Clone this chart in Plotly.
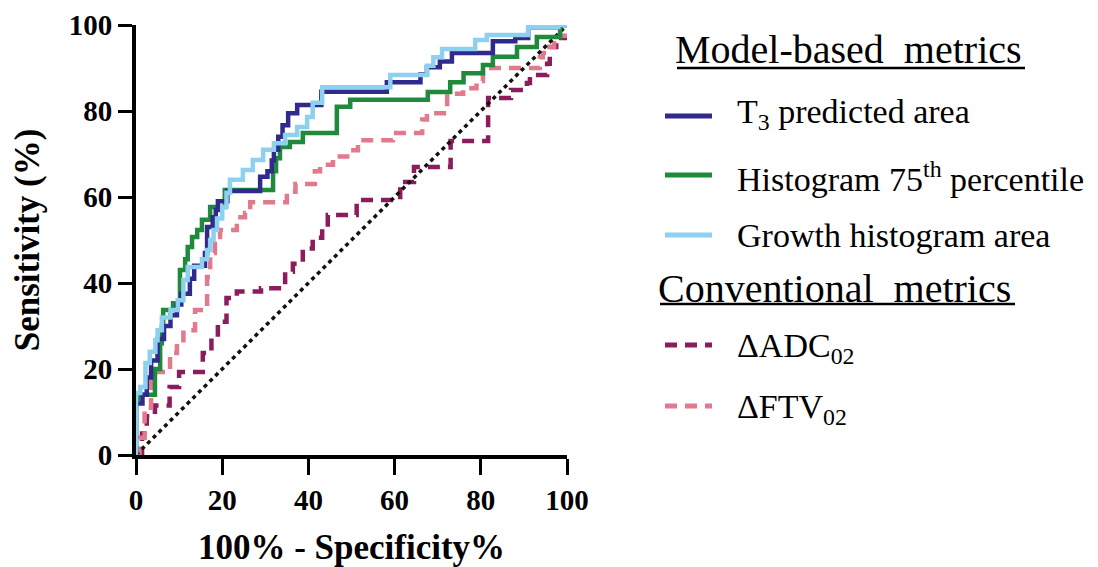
import plotly.graph_objects as go

# ---------------- data (jump points of ROC step curves) ----------------
t3_x = [0, 0, 1.5, 2.5, 3.5, 5, 6.5, 8, 9.5, 10.5, 12.5, 13.5, 16, 16.5, 17.8, 18.5, 19, 21.2,
        28.8, 30.5, 31.5, 32, 33, 34, 35.3, 37.4, 43, 58.2, 66, 67.5, 70.5, 73.3, 82.8, 88, 91, 98, 100]
t3_y = [0, 12, 14, 18, 22, 27, 30, 32.5, 35, 37.5, 41, 44, 47, 53, 55.3, 57, 59, 61.4,
        64.7, 66, 68.5, 71, 74, 76.7, 79.5, 81.4, 84.5, 86.7, 88.5, 90.2, 91.5, 93.5, 96.2, 97, 99.5, 100, 100]

hist75_x = [0, 0, 0.5, 4.4, 5.6, 6.0, 6.3, 8.6, 10.2, 11.4, 12, 13, 14.2, 15.3, 17.2, 20.6,
            31.8, 32.5, 33.4, 35.7, 38.7, 46.6, 49.7, 67.7, 72.9, 76, 80.5, 82.8, 88.4, 93, 98.4, 100]
hist75_y = [0, 13, 14, 20, 26, 29.8, 33.7, 35.3, 43, 45.5, 48.4, 50.7, 52.3, 54.7, 57.7, 61.6,
            66, 69, 71.6, 72.8, 74.9, 81, 82.6, 84.4, 86.7, 88.8, 90.7, 92.6, 94.9, 97.2, 100, 100]

growth_x = [0, 0, 1, 2.2, 3.2, 4.5, 5, 6, 8, 9.7, 11, 12, 15.3, 16.5, 17.2, 18, 18.8, 20, 21, 21.8,
            24.8, 27.1, 29.5, 32, 34.6, 37.4, 39.7, 41, 43.2, 59, 67.5, 69, 71, 78.7, 81.4, 91, 98, 100]
growth_y = [0, 14.4, 15.8, 21.4, 24, 26.7, 29, 32, 33.7, 36, 40.7, 43.7, 45.5, 47.7, 50, 52.3, 55, 57.7, 61, 64,
            66.3, 68.6, 71, 72.5, 74.4, 76.3, 78.6, 81.9, 85.5, 88.4, 90.5, 92.5, 94.4, 96.5, 97.7, 99.5, 100, 100]

adc_x = [0, 1.4, 2.5, 4.4, 7.8, 10, 15.5, 17.5, 19, 21, 23.4, 29, 34.6, 36.4, 38.7, 41, 43.2, 44.5,
         51.2, 61.3, 64.5, 73, 81.7, 87, 90.7, 91.4, 95.4, 96, 97.5, 100]
adc_y = [0, 5, 9, 11.5, 15.8, 19.3, 23.7, 28, 31, 36.5, 38, 38.8, 42.6, 44.5, 48, 50.5, 52.8, 55.8,
         59.3, 63.5, 67, 73, 83, 84.9, 86.5, 88.4, 91, 94.9, 97, 100]

ftv_x = [0, 0.8, 2, 3.5, 7.9, 9.5, 11, 13.7, 16.5, 17.2, 18.3, 19.5, 23.4, 25.3, 26.5, 35, 37, 41.5,
         42.7, 45.7, 49, 51.5, 59.6, 66.4, 67.5, 72.2, 75.9, 79, 80.5, 93.7, 94.4, 95.4, 97, 100]
ftv_y = [0, 4, 11, 19.3, 23.7, 26, 29, 33.7, 41.4, 47, 50.7, 52.3, 55.3, 56.3, 58.8, 61.2, 63, 66,
         67.5, 69.4, 70.9, 73.2, 74.9, 78, 79.5, 84, 85.3, 87, 90, 92.5, 93.5, 94.9, 97.5, 100]

ref_x = [0, 100]
ref_y = [0, 100]

x_ticks = [0, 20, 40, 60, 80, 100]
y_ticks = [0, 20, 40, 60, 80, 100]

# ---------------- styling ----------------
C_T3 = "#2F2A8C"
C_HIST = "#1F8A3B"
C_GROW = "#8DD0F0"
C_ADC = "#8C1D5C"
C_FTV = "#E07A8C"
FONT = "Liberation Serif"
DASH = "12px,8px"

OFF = 8  # default page body margin
W, H = 1098 - OFF, 567 - OFF
# plot area in page pixels
PL, PR, PT, PB = 136, 567, 25, 455


def px(x):
    return (x - PL) / (PR - PL)


def py(y):
    return (PB - y) / (PB - PT)


fig = go.Figure()
fig.add_trace(go.Scatter(x=adc_x, y=adc_y, mode="lines",
                         line=dict(shape="hv", color=C_ADC, width=4.5, dash=DASH)))
fig.add_trace(go.Scatter(x=ftv_x, y=ftv_y, mode="lines",
                         line=dict(shape="hv", color=C_FTV, width=4.5, dash=DASH)))
fig.add_trace(go.Scatter(x=ref_x, y=ref_y, mode="lines",
                         line=dict(color="#111111", width=3.5, dash="4px,4px")))
fig.add_trace(go.Scatter(x=hist75_x, y=hist75_y, mode="lines",
                         line=dict(shape="hv", color=C_HIST, width=4.5)))
fig.add_trace(go.Scatter(x=t3_x, y=t3_y, mode="lines",
                         line=dict(shape="hv", color=C_T3, width=4.5)))
fig.add_trace(go.Scatter(x=growth_x, y=growth_y, mode="lines",
                         line=dict(shape="hv", color=C_GROW, width=4.5)))

axis_common = dict(range=[0, 100], showgrid=False, zeroline=False, showline=True,
                   automargin=False,
                   linecolor="black", linewidth=4, ticks="outside", tickcolor="black",
                   tickwidth=3, tickfont=dict(family=FONT, size=29, color="black", weight="bold"))

fig.update_xaxes(**axis_common, tickvals=x_ticks, ticklen=16,
                 title=dict(text="100% - Specificity%", standoff=22,
                            font=dict(family=FONT, size=35, color="black", weight="bold")))
fig.update_yaxes(**axis_common, tickvals=y_ticks, ticklen=14,
                 title=dict(text="Sensitivity (%)", standoff=26,
                            font=dict(family=FONT, size=35, color="black", weight="bold")))

# ---------------- custom legend ----------------
annotations = []
shapes = []


def add_text(text, x, y, size):
    annotations.append(dict(text=text, x=px(x), y=py(y), xref="paper", yref="paper",
                            xanchor="left", yanchor="middle", showarrow=False,
                            font=dict(family=FONT, size=size, color="black")))


def add_sample(y, color, dash):
    shapes.append(dict(type="line", xref="paper", yref="paper", x0=px(665), x1=px(712),
                       y0=py(y), y1=py(y), line=dict(color=color, width=5, dash=dash)))


def add_underline(x0, x1, y):
    shapes.append(dict(type="line", xref="paper", yref="paper", x0=px(x0), x1=px(x1),
                       y0=py(y), y1=py(y), line=dict(color="black", width=2.5)))


add_text("Model-based  metrics", 673, 49, 40)
add_underline(677, 1025, 68)
add_sample(116, C_T3, "solid")
add_text("T<sub>3</sub> predicted area", 735, 114, 34)
add_sample(175, C_HIST, "solid")
add_text("Histogram 75<sup>th</sup> percentile", 735, 177, 34)
add_sample(235, C_GROW, "solid")
add_text("Growth histogram area", 735, 235, 34)
add_text("Conventional  metrics", 656, 288, 40)
add_underline(660, 1015, 304)
add_sample(345, C_ADC, DASH)
add_text("ΔADC<sub>02</sub>", 735, 348, 34)
add_sample(406, C_FTV, DASH)
add_text("ΔFTV<sub>02</sub>", 735, 409, 34)

fig.update_layout(width=W, height=H, autosize=False,
                  margin=dict(l=PL - OFF, r=1098 - PR, t=PT - OFF, b=567 - PB),
                  plot_bgcolor="white", paper_bgcolor="white", showlegend=False,
                  annotations=annotations, shapes=shapes)

fig.write_html("out.html")
